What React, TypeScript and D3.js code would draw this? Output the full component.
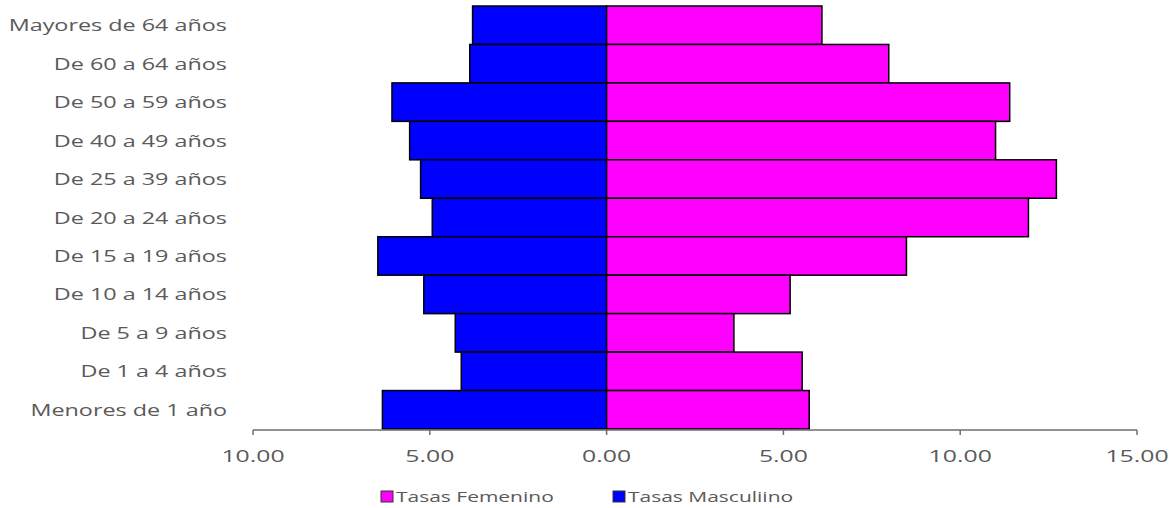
import { useEffect, useRef } from 'react'
import * as d3 from 'd3'

// age groups, top to bottom as drawn
const categories = [
  'Mayores de 64 años',
  'De 60 a 64 años',
  'De 50 a 59 años',
  'De 40 a 49 años',
  'De 25 a 39 años',
  'De 20 a 24 años',
  'De 15 a 19 años',
  'De 10 a 14 años',
  'De 5 a 9 años',
  'De 1 a 4 años',
  'Menores de 1 año'
]

const femenino = [6.09, 7.98, 11.4, 11.0, 12.72, 11.93, 8.48, 5.19, 3.6, 5.53, 5.73]
const masculino = [3.79, 3.87, 6.07, 5.57, 5.26, 4.93, 6.47, 5.17, 4.28, 4.11, 6.34]

const xTicks = [-10, -5, 0, 5, 10, 15]

const legendItems = [
  { label: 'Tasas Femenino', color: '#ff00ff' },
  { label: 'Tasas Masculiino', color: '#0000ff' }
]

const W = 1173
const H = 508
const FONT = '"Open Sans", "DejaVu Sans", sans-serif'
const TEXT = '#5a5a5a'

export default function App() {
  const svgRef = useRef<SVGSVGElement>(null)

  useEffect(() => {
    if (!svgRef.current) return
    const svg = d3.select(svgRef.current)
    svg.selectAll('*').remove()

    const x = d3.scaleLinear().domain([-10, 15]).range([253, 1137])
    const y = d3.scaleBand().domain(categories).range([6, 429]).padding(0)

    const g = svg.append('g')

    // male bars (left)
    g.selectAll('.male')
      .data(masculino)
      .enter().append('rect')
      .attr('x', d => x(-d))
      .attr('y', (_, i) => y(categories[i])!)
      .attr('width', d => x(0) - x(-d))
      .attr('height', y.bandwidth())
      .attr('fill', '#0000ff')
      .attr('stroke', '#000')
      .attr('stroke-width', 1.5)

    // female bars (right)
    g.selectAll('.female')
      .data(femenino)
      .enter().append('rect')
      .attr('x', x(0))
      .attr('y', (_, i) => y(categories[i])!)
      .attr('width', d => x(d) - x(0))
      .attr('height', y.bandwidth())
      .attr('fill', '#ff00ff')
      .attr('stroke', '#000')
      .attr('stroke-width', 1.5)

    // category labels (the source image is stretched horizontally)
    g.selectAll('.cat')
      .data(categories)
      .enter().append('text')
      .attr('transform', d => `translate(227,${y(d)! + y.bandwidth() / 2 + 6}) scale(1.46,1)`)
      .attr('text-anchor', 'end')
      .attr('font-family', FONT)
      .attr('font-size', 16)
      .attr('fill', TEXT)
      .text(d => d)

    // x axis
    const axisY = 430
    g.append('line')
      .attr('x1', x(-10)).attr('x2', x(15))
      .attr('y1', axisY).attr('y2', axisY)
      .attr('stroke', '#6e6e6e')
      .attr('stroke-width', 1.5)

    g.selectAll('.tick')
      .data(xTicks)
      .enter().append('line')
      .attr('x1', d => x(d)).attr('x2', d => x(d))
      .attr('y1', axisY).attr('y2', axisY + 5)
      .attr('stroke', '#6e6e6e')
      .attr('stroke-width', 1.5)

    g.selectAll('.tickLabel')
      .data(xTicks)
      .enter().append('text')
      .attr('transform', d => `translate(${x(d)},462) scale(1.55,1)`)
      .attr('text-anchor', 'middle')
      .attr('font-family', FONT)
      .attr('font-size', 16)
      .attr('fill', TEXT)
      .text(d => Math.abs(d).toFixed(2))

    // legend
    const legendX = [381, 613]
    const lg = g.selectAll('.legend')
      .data(legendItems)
      .enter().append('g')
      .attr('transform', (_, i) => `translate(${legendX[i]},491)`)

    lg.append('rect')
      .attr('width', 12).attr('height', 11)
      .attr('fill', d => d.color)
      .attr('stroke', '#333')
      .attr('stroke-width', 1)

    lg.append('text')
      .attr('transform', `translate(15,11) scale(1.5,1)`)
      .attr('font-family', FONT)
      .attr('font-size', 14)
      .attr('fill', TEXT)
      .text(d => d.label)
  }, [])

  return (
    <svg
      ref={svgRef}
      width={W}
      height={H}
      style={{ position: 'fixed', left: 0, top: 0, background: '#fff' }}
    />
  )
}
